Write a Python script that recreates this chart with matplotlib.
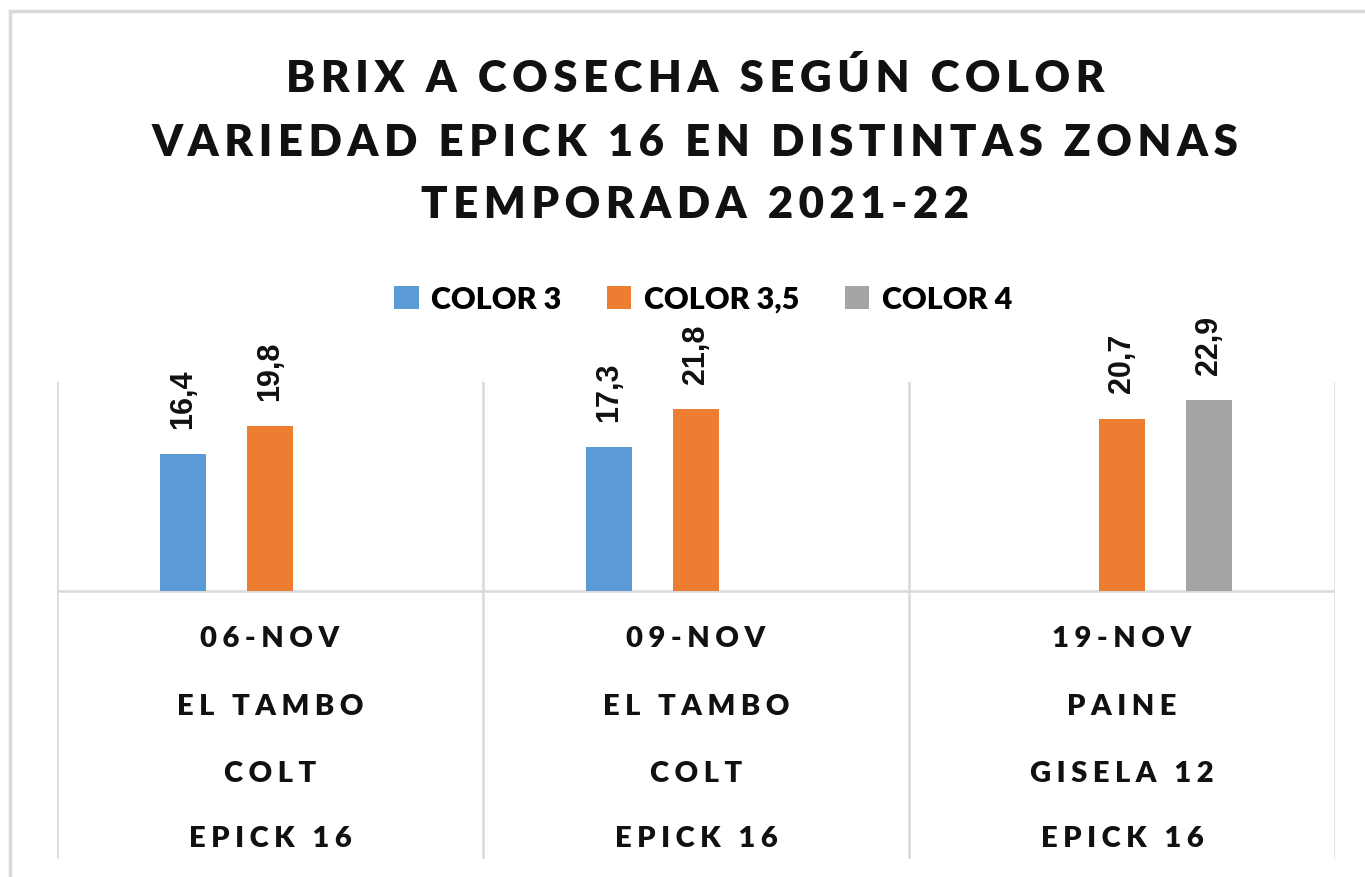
import numpy as np
import matplotlib.pyplot as plt
from matplotlib.patches import Patch, Rectangle

# Data
title_lines = ["BRIX A COSECHA SEGÚN COLOR",
               "VARIEDAD EPICK 16 EN DISTINTAS ZONAS",
               "TEMPORADA 2021-22"]
dates = ["06-NOV", "09-NOV", "19-NOV"]
zones = ["EL TAMBO", "EL TAMBO", "PAINE"]
rootstocks = ["COLT", "COLT", "GISELA 12"]
varieties = ["EPICK 16", "EPICK 16", "EPICK 16"]
series = ["COLOR 3", "COLOR 3,5", "COLOR 4"]
color3 = [16.4, 17.3, None]
color35 = [19.8, 21.8, 20.7]
color4 = [None, None, 22.9]
colors = ["#5B9BD5", "#ED7D31", "#A5A5A5"]

plt.rcParams['font.family'] = ['Lato', 'DejaVu Sans']


def spaced(s, sep='\u2009'):
    return sep.join(s)


fig = plt.figure(figsize=(13.65, 8.78), dpi=100)
# outer chart frame
fig.patches.append(Rectangle((10 / 1365, -0.1), 1.2, 1.1 - 12 / 878, transform=fig.transFigure,
                             fill=False, edgecolor='#d9d9d9', linewidth=2.5))

ax = fig.add_axes([57 / 1365, 18 / 878, 1278 / 1365, 477 / 878])
x = np.arange(len(dates))
w = 0.108
off = 0.205
for i, (vals, c) in enumerate(zip([color3, color35, color4], colors)):
    xs = [xi + (i - 1) * off for xi, v in zip(x, vals) if v is not None]
    vs = [v for v in vals if v is not None]
    bars = ax.bar(xs, vs, width=w, color=c, zorder=3)
    for b, v in zip(bars, vs):
        ax.annotate(f"{v:.1f}".replace('.', ','), (b.get_x() + b.get_width() / 2, v),
                    xytext=(0, 19), textcoords='offset points', rotation=90,
                    ha='center', va='bottom', fontsize=22, fontweight='bold',
                    family=['Liberation Sans'], color='#111111')

ax.set_xlim(-0.5, 2.5)
ax.set_ylim(-32.2, 25.1)
ax.axis('off')
ax.axhline(0, color='#d9d9d9', lw=1.8, zorder=2)
for xv in np.arange(-0.5, 3, 1):
    ax.axvline(xv, color='#d9d9d9', lw=1.8, zorder=1)

rows = [dates, zones, rootstocks, varieties]
row_y = [-5.6, -13.8, -21.9, -29.7]
for labels, yy in zip(rows, row_y):
    for xi, lab in zip(x, labels):
        ax.text(xi, yy, spaced(lab, '\u2009\u200a'), ha='center', va='center', fontsize=21,
                fontweight='heavy', color='#111111')

# title
for ln, yy in zip(title_lines, [78, 143, 205]):
    fig.text(0.509, 1 - yy / 878, spaced(ln), ha='center', va='center', fontsize=31.5,
             fontweight='heavy', color='#111111')

handles = [Patch(facecolor=c, label=s) for c, s in zip(colors, series)]
fig.legend(handles=handles, loc='center', bbox_to_anchor=(0.515, 1 - 300 / 878), ncol=3,
           frameon=False, prop={'weight': 'heavy', 'size': 22},
           handlelength=0.8, handleheight=0.8, handletextpad=0.4, columnspacing=1.5)

fig.savefig('out.png', dpi=100)
